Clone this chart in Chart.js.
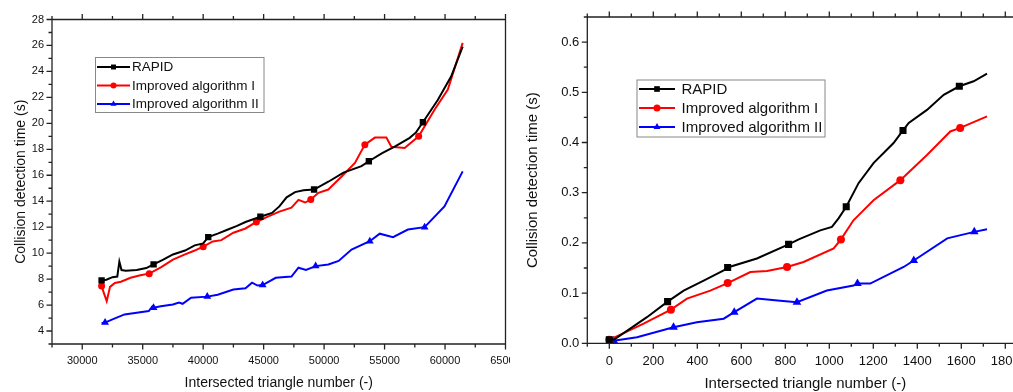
<!DOCTYPE html>
<html>
<head>
<meta charset="utf-8">
<script src="https://cdn.jsdelivr.net/npm/chart.js@4.4.1/dist/chart.umd.min.js"></script>
<style>
  html, body { margin: 0; padding: 0; background: #fff; overflow: hidden; width: 1013px; height: 392px; }
  #wrapA { position: absolute; left: 0; top: 0; width: 510px; height: 392px; }
  #wrapB { position: absolute; left: 510px; top: 0; width: 530px; height: 392px; }
</style>
</head>
<body>
<div id="wrapA"><canvas id="chartA" width="510" height="392"></canvas></div>
<div id="wrapB"><canvas id="chartB" width="530" height="392"></canvas></div>
<script>
const seriesNames = ["RAPID", "Improved algorithm I", "Improved algorithm II"];

// Left chart: big models
const leftXTicks = [30000, 35000, 40000, 45000, 50000, 55000, 60000, 65000];
const leftYTicks = [4, 6, 8, 10, 12, 14, 16, 18, 20, 22, 24, 26, 28];

const leftRapidX = [31600, 32000, 32500, 32900, 33070, 33250, 33600, 34500, 35300, 35900, 36700, 37500, 38500, 39300, 40000, 40420, 41200, 42000, 42800, 43500, 44730, 45690, 46300, 46900, 47600, 48300, 49170, 50350, 51600, 53090, 53700, 54800, 55840, 57080, 57600, 58170, 59400, 60500, 61460];
const leftRapidY = [7.9, 7.95, 8.15, 8.2, 9.35, 8.7, 8.65, 8.7, 8.85, 9.13, 9.5, 9.9, 10.2, 10.6, 10.75, 11.23, 11.5, 11.8, 12.1, 12.4, 12.8, 13.1, 13.6, 14.3, 14.7, 14.85, 14.9, 15.5, 16.2, 16.7, 17.08, 17.7, 18.2, 18.88, 19.3, 20.08, 21.8, 23.6, 25.9];
const leftRapidMarks = [0, 9, 15, 20, 26, 30, 35];

const leftAlg1X = [31600, 31800, 32025, 32300, 32700, 33200, 34000, 34800, 35540, 36500, 37500, 38500, 39300, 40000, 40800, 41500, 42500, 43500, 44400, 45300, 46300, 47300, 47880, 48430, 48900, 49530, 50350, 51450, 52550, 53370, 54200, 55150, 55560, 56660, 57820, 59130, 60230, 61460];
const leftAlg1Y = [7.46, 6.9, 6.3, 7.4, 7.7, 7.8, 8.1, 8.3, 8.42, 8.9, 9.5, 9.9, 10.2, 10.5, 10.9, 11.0, 11.57, 11.9, 12.4, 12.8, 13.2, 13.5, 14.1, 13.9, 14.13, 14.65, 14.9, 15.9, 16.95, 18.36, 18.9, 18.9, 18.2, 18.1, 19.0, 21.05, 22.6, 26.2];
const leftAlg1Marks = [0, 8, 13, 18, 24, 29, 34];

const leftAlg2X = [31600, 31890, 32500, 33500, 34500, 35500, 35800, 35900, 36500, 37500, 38000, 38300, 39000, 40340, 41200, 42500, 43500, 44040, 44500, 44920, 46000, 47300, 47880, 48500, 49300, 50350, 51200, 52270, 53780, 54600, 55700, 56930, 58310, 59950, 61460];
const leftAlg2Y = [4.6, 4.65, 4.9, 5.28, 5.4, 5.54, 5.9, 5.8, 5.9, 6.05, 6.2, 6.1, 6.57, 6.65, 6.8, 7.2, 7.3, 7.72, 7.5, 7.54, 8.1, 8.2, 8.88, 8.7, 9.0, 9.13, 9.4, 10.28, 10.92, 11.5, 11.23, 11.82, 12.0, 13.6, 16.3];
const leftAlg2Marks = [1, 7, 13, 19, 24, 28, 32];

// Right chart: small models
const rightXTicks = [0, 200, 400, 600, 800, 1000, 1200, 1400, 1600, 1800];
const rightYTicks = [0.0, 0.1, 0.2, 0.3, 0.4, 0.5, 0.6];

const rightRapidX = [0, 24, 171, 265, 338, 429, 520, 538, 671, 815, 861, 959, 1012, 1042, 1077, 1133, 1201, 1292, 1335, 1361, 1444, 1520, 1591, 1656, 1717];
const rightRapidY = [0.007, 0.008, 0.052, 0.083, 0.105, 0.125, 0.145, 0.151, 0.169, 0.197, 0.207, 0.225, 0.232, 0.249, 0.272, 0.319, 0.359, 0.399, 0.424, 0.439, 0.465, 0.495, 0.512, 0.522, 0.537];
const rightRapidMarks = [0, 3, 7, 9, 14, 18, 22];

const rightAlg1X = [0, 156, 280, 353, 459, 538, 641, 717, 808, 883, 1020, 1053, 1110, 1201, 1323, 1444, 1550, 1595, 1717];
const rightAlg1Y = [0.007, 0.039, 0.067, 0.089, 0.105, 0.12, 0.142, 0.144, 0.152, 0.162, 0.189, 0.207, 0.245, 0.285, 0.325, 0.375, 0.422, 0.429, 0.452];
const rightAlg1Marks = [0, 2, 5, 8, 11, 14, 17];

const rightAlg2X = [0, 20, 126, 292, 398, 520, 568, 671, 777, 853, 989, 1110, 1128, 1186, 1338, 1384, 1536, 1659, 1717];
const rightAlg2Y = [0.004, 0.005, 0.012, 0.032, 0.042, 0.049, 0.062, 0.089, 0.085, 0.082, 0.105, 0.115, 0.119, 0.119, 0.152, 0.165, 0.209, 0.222, 0.227];
const rightAlg2Marks = [1, 3, 6, 9, 12, 15, 17];

const xTitle = "Intersected triangle number (-)";
const yTitle = "Collision detection time (s)";

const FONT = "'Liberation Sans', Arial, sans-serif";
const colors = ["#000000", "#ff0000", "#0000ff"];
const styles = ["rect", "circle", "triangle"];

function toPoints(xs, ys) {
  return xs.map((x, i) => ({ x: x, y: ys[i] }));
}

function makeDataset(i, xs, ys, marks, radii) {
  return {
    label: seriesNames[i],
    data: toPoints(xs, ys),
    showLine: true,
    borderColor: colors[i],
    backgroundColor: colors[i],
    borderWidth: 2,
    tension: 0,
    pointStyle: styles[i],
    pointBorderWidth: 0,
    pointRadius: (ctx) => (marks.includes(ctx.dataIndex) ? radii[i] : 0),
    pointHoverRadius: 0,
  };
}

function drawMarker(ctx, style, x, y, r) {
  ctx.beginPath();
  if (style === "rect") {
    const s = r * Math.SQRT1_2;
    ctx.rect(x - s, y - s, 2 * s, 2 * s);
  } else if (style === "circle") {
    ctx.arc(x, y, r, 0, Math.PI * 2);
  } else {
    ctx.moveTo(x, y - r);
    ctx.lineTo(x + r * 0.866, y + r * 0.5);
    ctx.lineTo(x - r * 0.866, y + r * 0.5);
    ctx.closePath();
  }
  ctx.fill();
}

function isMajor(v, step) {
  const q = v / step;
  return Math.abs(q - Math.round(q)) < 1e-6;
}

// axis box, tick marks, titles and legend
const framePlugin = {
  id: "frame",
  afterDraw(chart, args, o) {
    const ctx = chart.ctx;
    const a = chart.chartArea;
    const sx = chart.scales.x;
    const sy = chart.scales.y;
    ctx.save();
    ctx.strokeStyle = "#222";
    ctx.lineWidth = 1.3;
    ctx.beginPath();
    ctx.moveTo(a.left, a.top); ctx.lineTo(a.right, a.top);
    ctx.moveTo(a.left, a.bottom); ctx.lineTo(a.right, a.bottom);
    ctx.moveTo(a.left, a.top); ctx.lineTo(a.left, a.bottom);
    ctx.moveTo(a.right, a.top); ctx.lineTo(a.right, a.bottom);

    for (let i = Math.ceil(sx.min / o.xMinor - 1e-9); i * o.xMinor <= sx.max + 1e-9; i++) {
      const v = i * o.xMinor;
      const px = sx.getPixelForValue(v);
      const len = isMajor(v, o.xMajor) ? 5.5 : 3.5;
      ctx.moveTo(px, a.bottom); ctx.lineTo(px, a.bottom + len);
      ctx.moveTo(px, a.top); ctx.lineTo(px, a.top - len);
    }
    for (let i = Math.ceil(sy.min / o.yMinor - 1e-9); i * o.yMinor <= sy.max + 1e-9; i++) {
      const v = i * o.yMinor;
      const py = sy.getPixelForValue(v);
      const len = isMajor(v, o.yMajor) ? 5.5 : 3.5;
      ctx.moveTo(a.left, py); ctx.lineTo(a.left - len, py);
    }
    ctx.stroke();

    // titles
    ctx.fillStyle = "#111";
    ctx.font = o.titleSize + "px " + FONT;
    ctx.textAlign = "center";
    ctx.textBaseline = "alphabetic";
    ctx.fillText(xTitle, (a.left + a.right) / 2 + o.xTitleShift, o.xTitleY);
    ctx.save();
    ctx.translate(o.yTitleX, (a.top + a.bottom) / 2);
    ctx.rotate(-Math.PI / 2);
    ctx.fillText(yTitle, 0, 0);
    ctx.restore();

    // legend
    const L = o.legend;
    ctx.fillStyle = "#fff";
    ctx.fillRect(L.x, L.y, L.w, L.h);
    ctx.strokeStyle = "#888";
    ctx.lineWidth = 1;
    ctx.strokeRect(L.x, L.y, L.w, L.h);
    ctx.font = L.size + "px " + FONT;
    ctx.textAlign = "left";
    ctx.textBaseline = "middle";
    chart.data.datasets.forEach((ds, i) => {
      const y = L.rows[i];
      ctx.strokeStyle = ds.borderColor;
      ctx.lineWidth = 2;
      ctx.beginPath();
      ctx.moveTo(L.lineX0, y); ctx.lineTo(L.lineX1, y);
      ctx.stroke();
      ctx.fillStyle = ds.borderColor;
      drawMarker(ctx, ds.pointStyle, (L.lineX0 + L.lineX1) / 2, y, L.marker[i]);
      ctx.fillStyle = "#111";
      ctx.fillText(ds.label, L.textX, y + 0.5);
    });
    ctx.restore();
  },
};

function makeChart(id, datasets, cfg) {
  return new Chart(document.getElementById(id), {
    type: "scatter",
    data: { datasets: datasets },
    options: {
      responsive: false,
      animation: false,
      events: [],
      layout: { padding: { left: 0, top: cfg.top, right: cfg.right, bottom: 0 } },
      plugins: { legend: { display: false }, tooltip: { enabled: false }, frame: cfg.frame },
      scales: {
        x: {
          type: "linear",
          min: cfg.xMin, max: cfg.xMax,
          grid: { display: false, drawTicks: false },
          border: { display: false },
          ticks: {
            autoSkip: false,
            maxRotation: 0,
            padding: cfg.xPad,
            color: "#111",
            font: { family: FONT, size: cfg.tickSize },
            callback: (v) => String(v),
          },
          afterBuildTicks: (s) => { s.ticks = cfg.xTicks.map((v) => ({ value: v })); },
          afterFit: (s) => { s.height = cfg.xHeight; s.paddingLeft = 0; s.paddingRight = 0; },
        },
        y: {
          type: "linear",
          min: cfg.yMin, max: cfg.yMax,
          grid: { display: false, drawTicks: false },
          border: { display: false },
          ticks: {
            autoSkip: false,
            padding: cfg.yPad,
            color: "#111",
            font: { family: FONT, size: cfg.tickSize },
            callback: (v) => cfg.yFmt(v),
          },
          afterBuildTicks: (s) => { s.ticks = cfg.yTicks.map((v) => ({ value: v })); },
          afterFit: (s) => { s.width = cfg.yWidth; s.paddingTop = 0; s.paddingBottom = 0; },
        },
      },
    },
    plugins: [framePlugin],
  });
}

const leftRadii = [4.5, 3.5, 4.5];
makeChart("chartA", [
  makeDataset(0, leftRapidX, leftRapidY, leftRapidMarks, leftRadii),
  makeDataset(1, leftAlg1X, leftAlg1Y, leftAlg1Marks, leftRadii),
  makeDataset(2, leftAlg2X, leftAlg2Y, leftAlg2Marks, leftRadii),
], {
  top: 19.5, right: 4, xHeight: 48, yWidth: 52,
  xMin: 27500, xMax: 65000, yMin: 3, yMax: 28,
  xTicks: leftXTicks, yTicks: leftYTicks,
  xPad: 10, yPad: 8, tickSize: 11,
  yFmt: (v) => String(v),
  frame: {
    xMajor: 5000, xMinor: 2500, yMajor: 2, yMinor: 1,
    titleSize: 14, xTitleY: 387, xTitleShift: 0, yTitleX: 25,
    legend: {
      x: 95.5, y: 57.5, w: 168.5, h: 55, size: 13.5,
      rows: [67, 85.5, 104], lineX0: 97, lineX1: 130, textX: 132,
      marker: [3.5, 3, 3.5],
    },
  },
});

const rightRadii = [5, 4, 5];
makeChart("chartB", [
  makeDataset(0, rightRapidX, rightRapidY, rightRapidMarks, rightRadii),
  makeDataset(1, rightAlg1X, rightAlg1Y, rightAlg1Marks, rightRadii),
  makeDataset(2, rightAlg2X, rightAlg2Y, rightAlg2Marks, rightRadii),
], {
  top: 17, right: 12.7, xHeight: 48.7, yWidth: 77.3,
  xMin: -100, xMax: 1900, yMin: 0, yMax: 0.65,
  xTicks: rightXTicks, yTicks: rightYTicks,
  xPad: 10, yPad: 8, tickSize: 13,
  yFmt: (v) => v.toFixed(1),
  frame: {
    xMajor: 200, xMinor: 100, yMajor: 0.1, yMinor: 0.05,
    titleSize: 15, xTitleY: 387.5, xTitleShift: -2, yTitleX: 26.5,
    legend: {
      x: 127, y: 80, w: 188, h: 57, size: 15,
      rows: [89, 108, 127], lineX0: 129, lineX1: 165, textX: 171.5,
      marker: [4, 3.5, 4],
    },
  },
});
</script>
</body>
</html>
